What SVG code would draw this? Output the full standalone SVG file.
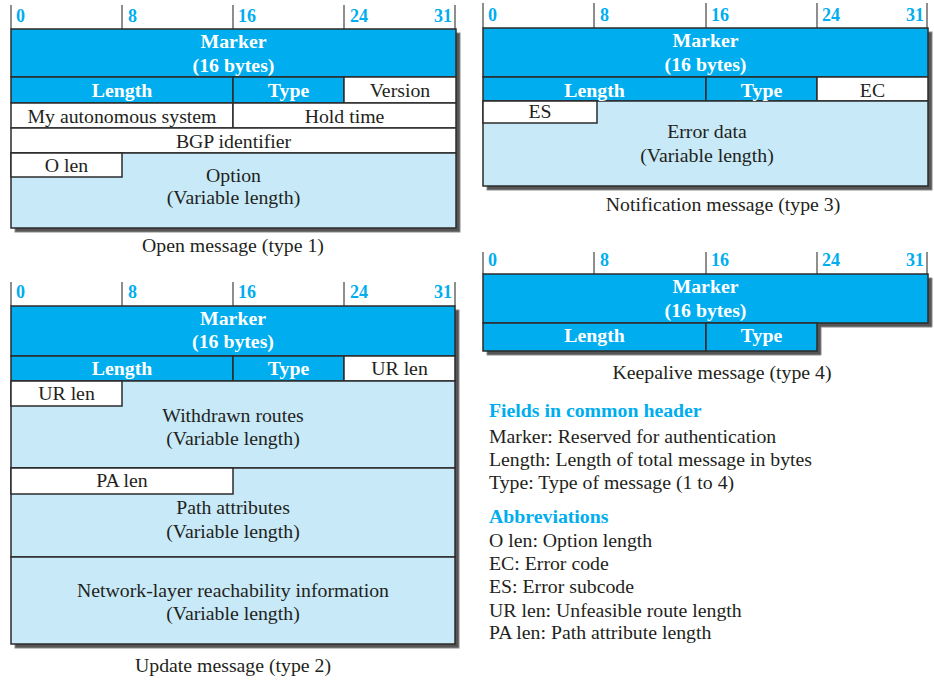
<svg xmlns="http://www.w3.org/2000/svg" width="934" height="680" viewBox="0 0 934 680">
<style>
.bg{fill:#ffffff}
.shadow{fill:#555555;stroke:#8a8a8a;stroke-width:1}
.hdr{fill:#00AEEF;stroke:#2b2b2b;stroke-width:1.5}
.lt{fill:#C7E9F8;stroke:#2b2b2b;stroke-width:1.5}
.wh{fill:#ffffff;stroke:#2b2b2b;stroke-width:1.5}
.tick{stroke:#444444;stroke-width:1.2}
.num{font-family:"Liberation Serif",serif;font-weight:bold;font-size:18px;fill:#00AEEF}
.bt{font-family:"Liberation Serif",serif;font-weight:bold;font-size:19.8px;fill:#ffffff;text-anchor:middle}
.t{font-family:"Liberation Serif",serif;font-size:19.8px;fill:#231F20;text-anchor:middle}
.cap{font-family:"Liberation Serif",serif;font-size:19.8px;fill:#231F20;text-anchor:middle}
.lh{font-family:"Liberation Serif",serif;font-weight:bold;font-size:19.8px;fill:#00AEEF}
.lb{font-family:"Liberation Serif",serif;font-size:19.8px;fill:#231F20}
</style>
<rect class="bg" x="0" y="0" width="934" height="680"/>

<g id="open-message">
  <g class="ticks">
    <line class="tick" x1="11" y1="5" x2="11" y2="29"/>
    <line class="tick" x1="122" y1="5" x2="122" y2="29"/>
    <line class="tick" x1="233" y1="5" x2="233" y2="29"/>
    <line class="tick" x1="344" y1="5" x2="344" y2="29"/>
    <line class="tick" x1="455" y1="5" x2="455" y2="29"/>
  </g>
  <text class="num" x="16" y="22">0</text>
  <text class="num" x="128" y="22">8</text>
  <text class="num" x="238" y="22">16</text>
  <text class="num" x="350" y="22">24</text>
  <text class="num" x="452" y="22" text-anchor="end">31</text>
  <rect class="shadow" x="15" y="33" width="445" height="199"/>
  <rect class="hdr" x="11" y="29" width="445" height="48"/>
  <rect class="hdr" x="11" y="77" width="222" height="26"/>
  <rect class="hdr" x="233" y="77" width="111" height="26"/>
  <rect class="wh" x="344" y="77" width="112" height="26"/>
  <rect class="wh" x="11" y="103" width="222" height="25"/>
  <rect class="wh" x="233" y="103" width="223" height="25"/>
  <rect class="wh" x="11" y="128" width="445" height="25"/>
  <rect class="lt" x="11" y="153" width="445" height="75"/>
  <rect class="wh" x="11" y="153" width="111" height="24"/>
  <text class="bt" x="233.5" y="48">Marker</text>
  <text class="bt" x="233.5" y="72">(16 bytes)</text>
  <text class="bt" x="122" y="97">Length</text>
  <text class="bt" x="288.5" y="97">Type</text>
  <text class="t" x="400" y="97">Version</text>
  <text class="t" x="122" y="123">My autonomous system</text>
  <text class="t" x="344.5" y="123">Hold time</text>
  <text class="t" x="233.5" y="148">BGP identifier</text>
  <text class="t" x="66.5" y="172">O len</text>
  <text class="t" x="233.5" y="182">Option</text>
  <text class="t" x="233.5" y="204">(Variable length)</text>
  <text class="cap" x="233" y="252">Open message (type 1)</text>
</g>

<g id="notification-message">
  <g class="ticks">
    <line class="tick" x1="483" y1="3" x2="483" y2="28"/>
    <line class="tick" x1="594" y1="3" x2="594" y2="28"/>
    <line class="tick" x1="706" y1="3" x2="706" y2="28"/>
    <line class="tick" x1="817" y1="3" x2="817" y2="28"/>
    <line class="tick" x1="927" y1="3" x2="927" y2="28"/>
  </g>
  <text class="num" x="488" y="21">0</text>
  <text class="num" x="600" y="21">8</text>
  <text class="num" x="711" y="21">16</text>
  <text class="num" x="822" y="21">24</text>
  <text class="num" x="924" y="21" text-anchor="end">31</text>
  <rect class="shadow" x="487" y="32" width="445" height="158"/>
  <rect class="hdr" x="483" y="28" width="445" height="49"/>
  <rect class="hdr" x="483" y="77" width="223" height="24"/>
  <rect class="hdr" x="706" y="77" width="111" height="24"/>
  <rect class="wh" x="817" y="77" width="111" height="24"/>
  <rect class="lt" x="483" y="101" width="445" height="85"/>
  <rect class="wh" x="483" y="101" width="114" height="22"/>
  <text class="bt" x="705.5" y="47">Marker</text>
  <text class="bt" x="705.5" y="71">(16 bytes)</text>
  <text class="bt" x="594.5" y="97">Length</text>
  <text class="bt" x="761.5" y="97">Type</text>
  <text class="t" x="872.5" y="97">EC</text>
  <text class="t" x="540" y="118">ES</text>
  <text class="t" x="707" y="138">Error data</text>
  <text class="t" x="707" y="162">(Variable length)</text>
  <text class="cap" x="723" y="211">Notification message (type 3)</text>
</g>

<g id="keepalive-message">
  <g class="ticks">
    <line class="tick" x1="483" y1="252" x2="483" y2="274"/>
    <line class="tick" x1="594" y1="252" x2="594" y2="274"/>
    <line class="tick" x1="706" y1="252" x2="706" y2="274"/>
    <line class="tick" x1="817" y1="252" x2="817" y2="274"/>
    <line class="tick" x1="927" y1="252" x2="927" y2="274"/>
  </g>
  <text class="num" x="488" y="266">0</text>
  <text class="num" x="600" y="266">8</text>
  <text class="num" x="711" y="266">16</text>
  <text class="num" x="822" y="266">24</text>
  <text class="num" x="924" y="266" text-anchor="end">31</text>
  <polygon class="shadow" points="487,278 932,278 932,327 821,327 821,355 487,355"/>
  <rect class="hdr" x="483" y="274" width="445" height="49"/>
  <rect class="hdr" x="483" y="323" width="223" height="28"/>
  <rect class="hdr" x="706" y="323" width="111" height="28"/>
  <text class="bt" x="705.5" y="293">Marker</text>
  <text class="bt" x="705.5" y="317">(16 bytes)</text>
  <text class="bt" x="594.5" y="342">Length</text>
  <text class="bt" x="761.5" y="342">Type</text>
  <text class="cap" x="722" y="379">Keepalive message (type 4)</text>
</g>

<g id="update-message">
  <g class="ticks">
    <line class="tick" x1="11" y1="282" x2="11" y2="306"/>
    <line class="tick" x1="122" y1="282" x2="122" y2="306"/>
    <line class="tick" x1="233" y1="282" x2="233" y2="306"/>
    <line class="tick" x1="344" y1="282" x2="344" y2="306"/>
    <line class="tick" x1="455" y1="282" x2="455" y2="306"/>
  </g>
  <text class="num" x="16" y="298">0</text>
  <text class="num" x="128" y="298">8</text>
  <text class="num" x="238" y="298">16</text>
  <text class="num" x="350" y="298">24</text>
  <text class="num" x="452" y="298" text-anchor="end">31</text>
  <rect class="shadow" x="15" y="310" width="444" height="338"/>
  <rect class="hdr" x="11" y="306" width="444" height="50"/>
  <rect class="hdr" x="11" y="356" width="222" height="25"/>
  <rect class="hdr" x="233" y="356" width="111" height="25"/>
  <rect class="wh" x="344" y="356" width="111" height="25"/>
  <rect class="lt" x="11" y="381" width="444" height="87"/>
  <rect class="wh" x="11" y="381" width="111" height="25"/>
  <rect class="lt" x="11" y="468" width="444" height="89"/>
  <rect class="wh" x="11" y="468" width="222" height="26"/>
  <rect class="lt" x="11" y="557" width="444" height="87"/>
  <text class="bt" x="233" y="325">Marker</text>
  <text class="bt" x="233" y="348">(16 bytes)</text>
  <text class="bt" x="122" y="375">Length</text>
  <text class="bt" x="288.5" y="375">Type</text>
  <text class="t" x="399.5" y="375">UR len</text>
  <text class="t" x="66.5" y="400">UR len</text>
  <text class="t" x="233" y="422">Withdrawn routes</text>
  <text class="t" x="233" y="445">(Variable length)</text>
  <text class="t" x="122" y="487">PA len</text>
  <text class="t" x="233" y="514">Path attributes</text>
  <text class="t" x="233" y="538">(Variable length)</text>
  <text class="t" x="233" y="597">Network-layer reachability information</text>
  <text class="t" x="233" y="620">(Variable length)</text>
  <text class="cap" x="233" y="672">Update message (type 2)</text>
</g>

<g id="legend">
  <text class="lh" x="489" y="417">Fields in common header</text>
  <text class="lb" x="489" y="443">Marker: Reserved for authentication</text>
  <text class="lb" x="489" y="466">Length: Length of total message in bytes</text>
  <text class="lb" x="489" y="489">Type: Type of message (1 to 4)</text>
  <text class="lh" x="489" y="523">Abbreviations</text>
  <text class="lb" x="489" y="547">O len: Option length</text>
  <text class="lb" x="489" y="570">EC: Error code</text>
  <text class="lb" x="489" y="593">ES: Error subcode</text>
  <text class="lb" x="489" y="617">UR len: Unfeasible route length</text>
  <text class="lb" x="489" y="639">PA len: Path attribute length</text>
</g>

<g id="connectors"/>
</svg>
